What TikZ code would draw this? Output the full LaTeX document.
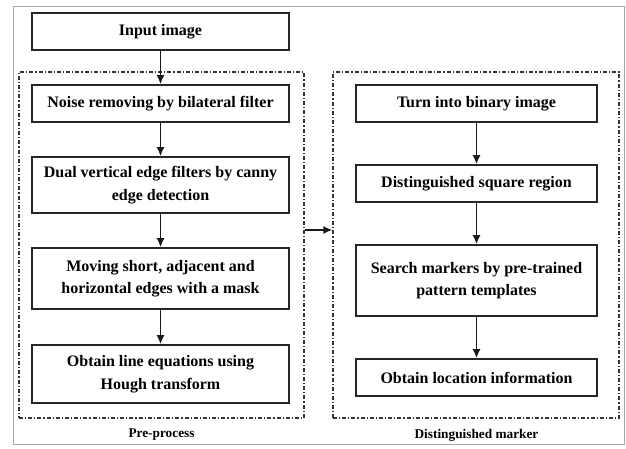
\documentclass[tikz,border=0pt]{standalone}
\usepackage{fontspec}
\setmainfont{Liberation Serif}
\usetikzlibrary{arrows.meta}
\begin{document}
\begin{tikzpicture}[x=1pt,y=-1pt,
  stepbox/.style={draw=black!85,line width=1.6pt,align=center,inner sep=0pt,
    font=\fontsize{16}{22.5}\selectfont\bfseries},
  frame/.style={draw=black!80,line width=1.2pt,dash pattern=on 4pt off 2pt on 1.2pt off 2pt,inner sep=0pt},
  lbl/.style={font=\fontsize{13.3}{15}\selectfont\bfseries},
  flow/.style={-{Latex[length=9pt,width=8pt]},line width=1.6pt,black!90}]
\useasboundingbox (0,0) rectangle (626,448);
\draw[gray!70,line width=0.8pt] (13,6) rectangle (624,444);
% frames
\node[frame,minimum width=285pt,minimum height=346pt] (lf) at (161.5,245) {};
\node[frame,minimum width=286pt,minimum height=346pt] (rf) at (476,245) {};
% left column
\node[stepbox,minimum width=257pt,minimum height=37pt] (in) at (160.5,31.5) {Input image};
\node[stepbox,minimum width=257pt,minimum height=37pt] (noise) at (160.5,103.5) {Noise removing by bilateral filter};
\node[stepbox,minimum width=257pt,minimum height=56pt] (dual) at (160.5,185) {Dual vertical edge filters by canny\\edge detection};
\node[stepbox,minimum width=257pt,minimum height=61pt] (mov) at (160.5,278.5) {Moving short, adjacent and\\horizontal edges with a mask};
\node[stepbox,minimum width=257pt,minimum height=58pt] (line) at (160.5,374) {Obtain line equations using\\Hough transform};
% right column
\node[stepbox,minimum width=241pt,minimum height=37pt] (turn) at (476.5,103.5) {Turn into binary image};
\node[stepbox,minimum width=241pt,minimum height=37pt] (sq) at (476.5,183.5) {Distinguished square region};
\node[stepbox,minimum width=241pt,minimum height=71pt] (search) at (476.5,280.5) {Search markers by pre-trained\\pattern templates};
\node[stepbox,minimum width=241pt,minimum height=37pt] (loc) at (476.5,377.5) {Obtain location information};
% labels
\node[lbl] (lpre) at (161.5,435) {Pre-process};
\node[lbl] (ldis) at (476.5,435) {Distinguished marker};
% arrows
\draw[flow] (in) -- (noise);
\draw[flow] (noise) -- (dual);
\draw[flow] (dual) -- (mov);
\draw[flow] (mov) -- (line);
\draw[flow] (turn) -- (sq);
\draw[flow] (sq) -- (search);
\draw[flow] (search) -- (loc);
\draw[flow] (lf.east |- 0,230) -- (rf.west |- 0,230);
\end{tikzpicture}
\end{document}
